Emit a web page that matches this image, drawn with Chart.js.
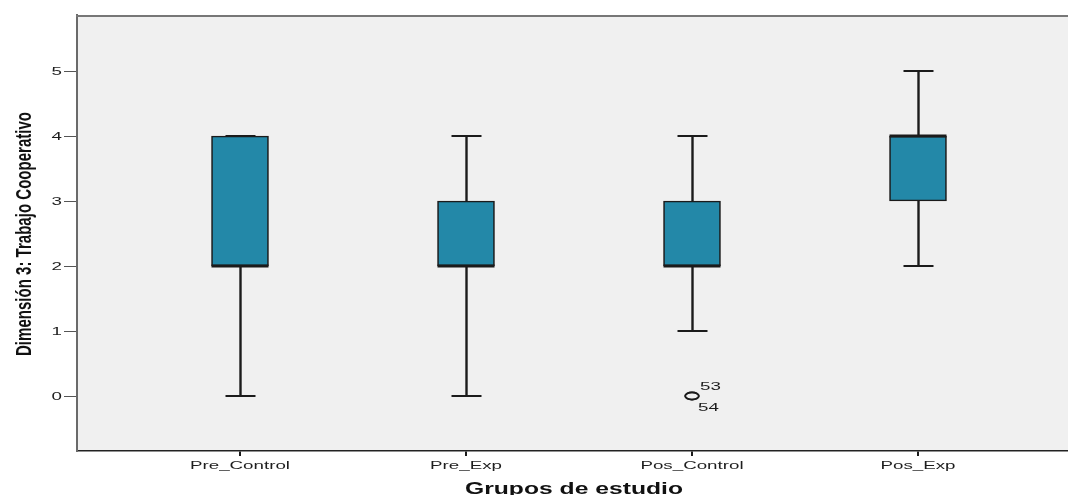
<!DOCTYPE html>
<html>
<head>
<meta charset="utf-8">
<title>Dimensión 3: Trabajo Cooperativo</title>
<script src="https://cdn.jsdelivr.net/npm/chart.js@4/dist/chart.umd.min.js"></script>
<style>
  html, body { margin: 0; padding: 0; background: #ffffff; }
  #wrap { width: 1068px; height: 495px; position: relative; }
</style>
</head>
<body>
<div id="wrap"><canvas id="chart" width="1068" height="495"></canvas></div>
<script>
// Box-plot summary per study group
const groups        = ['Pre_Control', 'Pre_Exp', 'Pos_Control', 'Pos_Exp'];
const lowerWhisker  = [0, 0, 1, 2];
const quartile1     = [2, 2, 2, 3];
const medians       = [2, 2, 2, 4];
const quartile3     = [4, 3, 3, 4];
const upperWhisker  = [4, 4, 4, 5];

// Outlying cases (group index, value, case number)
const outlierGroup  = [2, 2];
const outlierValues = [0, 0];
const outlierCases  = ['53', '54'];

const yTickValues = [0, 1, 2, 3, 4, 5];
const yTitle = 'Dimensión 3: Trabajo Cooperativo';
const xTitle = 'Grupos de estudio';

const BOX_FILL = '#2388a8';
const INK = '#1b1b1b';
const PLOT_BG = '#f0f0f0';
const FONT = '"Liberation Sans", Arial, sans-serif';

// Hollow elliptical marker for outliers
function makeOutlierMarker() {
  const c = document.createElement('canvas');
  c.width = 20; c.height = 12;
  const g = c.getContext('2d');
  g.strokeStyle = INK;
  g.lineWidth = 1.7;
  g.beginPath();
  g.ellipse(10, 6, 6.8, 3.6, 0, 0, Math.PI * 2);
  g.stroke();
  return c;
}

// Text squeezed/stretched horizontally in its own frame
function drawScaledText(ctx, text, x, y, sx, align) {
  ctx.save();
  ctx.translate(x, y);
  ctx.scale(sx, 1);
  ctx.textAlign = align;
  ctx.textBaseline = 'alphabetic';
  ctx.fillText(text, 0, 0);
  ctx.restore();
}

const boxPlotPlugin = {
  id: 'boxPlotPlugin',
  beforeDraw(chart) {
    const { ctx, chartArea: a, width } = chart;
    ctx.save();
    ctx.fillStyle = PLOT_BG;
    ctx.fillRect(a.left, a.top, width - a.left, a.bottom - a.top);
    ctx.restore();
  },
  beforeDatasetsDraw(chart) {
    const { ctx, scales: { x, y } } = chart;
    ctx.save();
    ctx.strokeStyle = INK;
    ctx.lineCap = 'butt';
    groups.forEach((g, i) => {
      const px = Math.round(x.getPixelForValue(i + 1)) + 0.5;
      const capHalf = 15;
      // lower whisker
      ctx.lineWidth = 2.4;
      ctx.beginPath();
      ctx.moveTo(px, y.getPixelForValue(lowerWhisker[i]));
      ctx.lineTo(px, y.getPixelForValue(quartile1[i]));
      ctx.stroke();
      // upper whisker
      ctx.beginPath();
      ctx.moveTo(px, y.getPixelForValue(quartile3[i]));
      ctx.lineTo(px, y.getPixelForValue(upperWhisker[i]));
      ctx.stroke();
      // caps
      ctx.lineWidth = 2;
      [lowerWhisker[i], upperWhisker[i]].forEach(v => {
        const py = Math.round(y.getPixelForValue(v));
        ctx.beginPath();
        ctx.moveTo(px - capHalf, py);
        ctx.lineTo(px + capHalf, py);
        ctx.stroke();
      });
    });
    ctx.restore();
  },
  afterDatasetsDraw(chart) {
    const { ctx, chartArea: a, width, scales: { x, y } } = chart;
    ctx.save();
    // median lines
    ctx.strokeStyle = INK;
    ctx.lineWidth = 3;
    groups.forEach((g, i) => {
      const px = x.getPixelForValue(i + 1);
      const py = Math.round(y.getPixelForValue(medians[i]));
      ctx.beginPath();
      ctx.moveTo(px - 28.5, py);
      ctx.lineTo(px + 28.5, py);
      ctx.stroke();
    });
    // top frame line of the plot area
    ctx.strokeStyle = '#777777';
    ctx.lineWidth = 2;
    ctx.beginPath();
    ctx.moveTo(a.left - 1, a.top + 1);
    ctx.lineTo(width, a.top + 1);
    ctx.stroke();

    ctx.fillStyle = '#1e1e1e';
    ctx.font = '11px ' + FONT;
    const sx = 100 / ctx.measureText('Pre_Control').width;

    // category labels
    groups.forEach((g, i) => {
      drawScaledText(ctx, g, x.getPixelForValue(i + 1), 469, sx, 'center');
    });
    // value labels on y axis
    yTickValues.forEach(v => {
      drawScaledText(ctx, String(v), a.left - 15, y.getPixelForValue(v) + 4, sx, 'right');
    });
    // outlier case numbers
    outlierCases.forEach((id, k) => {
      const px = x.getPixelForValue(outlierGroup[k] + 1);
      const py = y.getPixelForValue(outlierValues[k]);
      if (k === 0) drawScaledText(ctx, id, px + 8, py - 6, sx, 'left');
      else drawScaledText(ctx, id, px + 6, py + 15, sx, 'left');
    });

    // axis titles
    ctx.fillStyle = '#111111';
    ctx.font = 'bold 17px ' + FONT;
    const xsx = 218 / ctx.measureText(xTitle).width;
    drawScaledText(ctx, xTitle, 574, 494, xsx, 'center');

    ctx.font = 'bold 22px ' + FONT;
    const ysx = 244 / ctx.measureText(yTitle).width;
    ctx.save();
    ctx.translate(31, 234);
    ctx.rotate(-Math.PI / 2);
    drawScaledText(ctx, yTitle, 0, 0, ysx, 'center');
    ctx.restore();

    ctx.restore();
  }
};

const boxData = groups.map((g, i) => ({ x: i + 1, y: [quartile1[i], quartile3[i]] }));
const outlierData = outlierValues.map((v, k) => ({ x: outlierGroup[k] + 1, y: v }));

new Chart(document.getElementById('chart'), {
  data: {
    datasets: [
      {
        type: 'bar',
        label: 'Rango intercuartil',
        data: boxData,
        backgroundColor: BOX_FILL,
        borderColor: INK,
        borderWidth: 1.6,
        borderSkipped: false,
        barThickness: 57,
        order: 2
      },
      {
        type: 'scatter',
        label: 'Atípicos',
        data: outlierData,
        pointStyle: makeOutlierMarker(),
        order: 1
      }
    ]
  },
  options: {
    responsive: false,
    animation: false,
    events: [],
    layout: { autoPadding: false, padding: { top: 15, right: 0, left: 0, bottom: 0 } },
    plugins: { legend: { display: false }, tooltip: { enabled: false } },
    scales: {
      x: {
        type: 'linear',
        offset: false,
        min: 1 - 163 / 226,
        max: 4 + 150 / 226,
        afterBuildTicks(scale) { scale.ticks = groups.map((g, i) => ({ value: i + 1 })); },
        afterFit(scale) { scale.height = 44; },
        ticks: { display: false },
        grid: { offset: false, drawOnChartArea: false, drawTicks: true, tickLength: 5, color: INK, lineWidth: 2 },
        border: { display: true, color: '#222222', width: 1.5 }
      },
      y: {
        type: 'linear',
        min: -55 / 65,
        max: 5 + 56 / 65,
        afterBuildTicks(scale) { scale.ticks = yTickValues.map(v => ({ value: v })); },
        afterFit(scale) { scale.width = 77; },
        ticks: { display: false },
        grid: { drawOnChartArea: false, drawTicks: true, tickLength: 13, color: '#555555', lineWidth: 1 },
        border: { display: true, color: '#6a6a6a', width: 2 }
      }
    }
  },
  plugins: [boxPlotPlugin]
});
</script>
</body>
</html>
